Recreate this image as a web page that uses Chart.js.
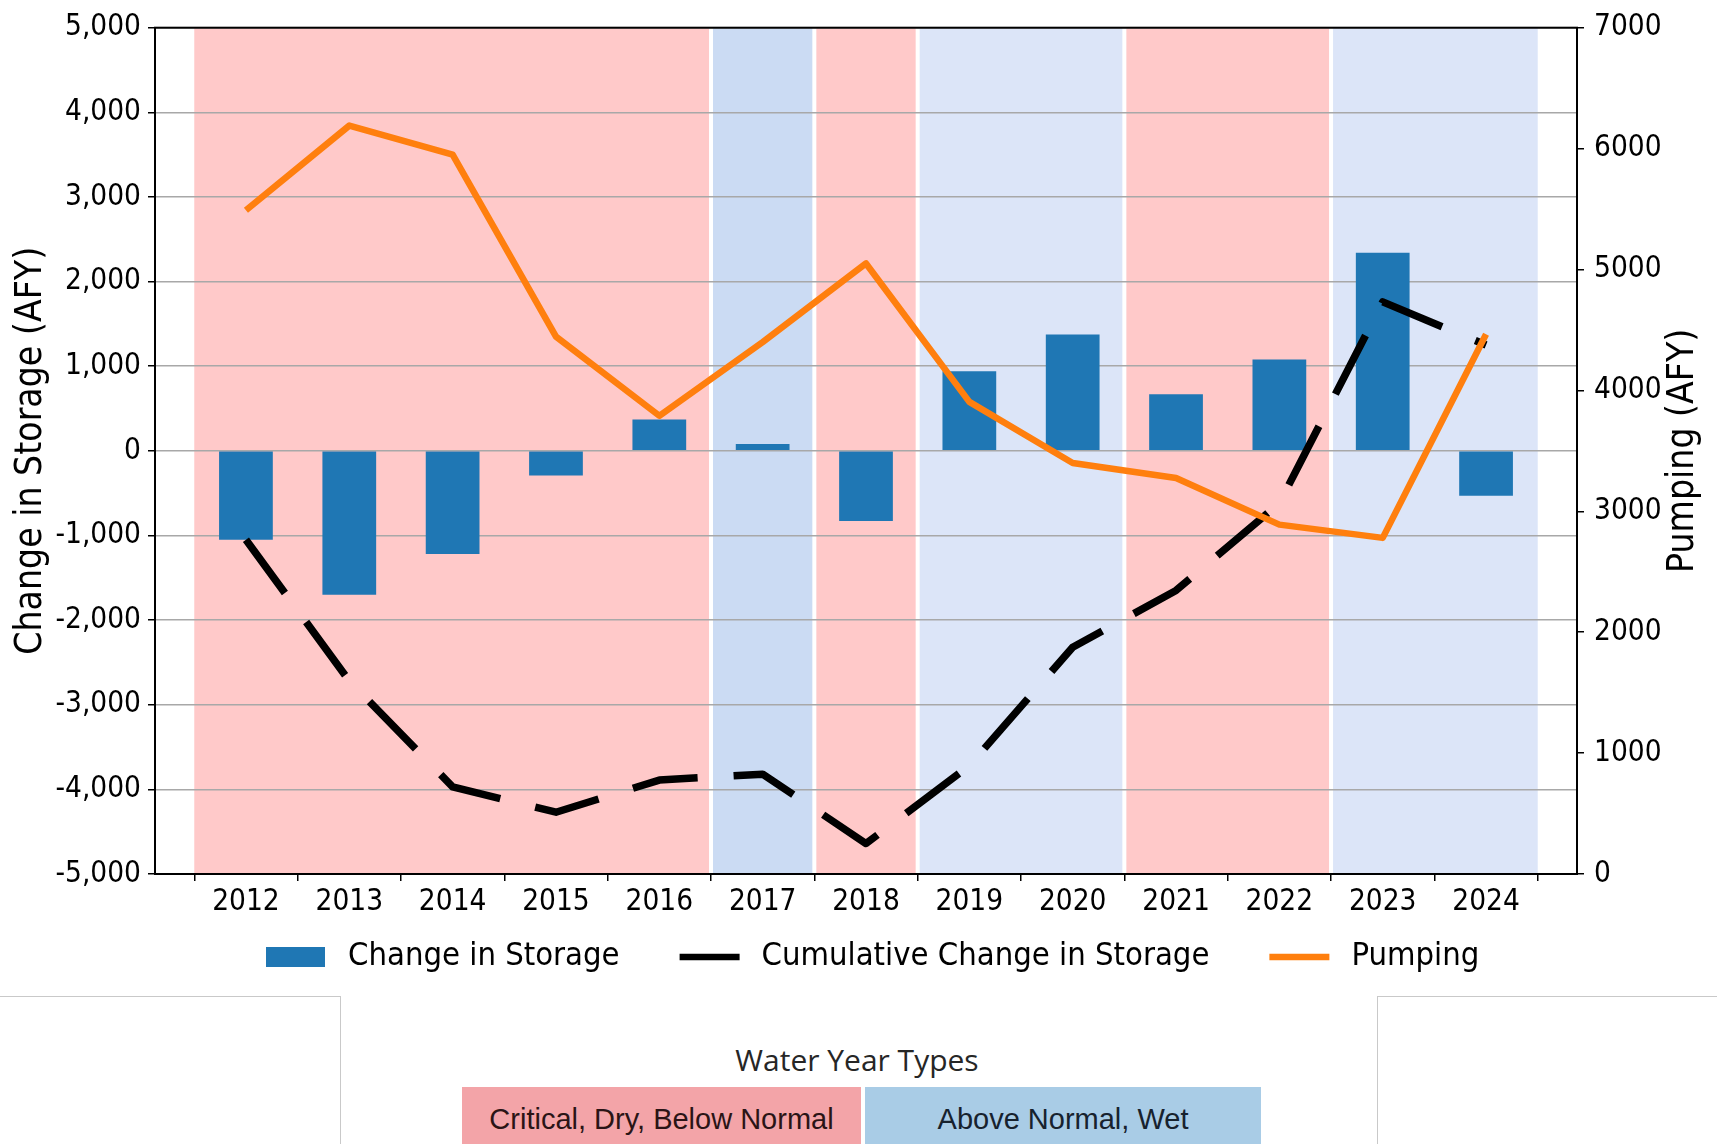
<!DOCTYPE html>
<html>
<head>
<meta charset="utf-8">
<script src="https://cdn.jsdelivr.net/npm/chart.js@4.4.1/dist/chart.umd.min.js"></script>
<style>
  html, body { margin: 0; padding: 0; background: #fff; }
  body { width: 1717px; height: 1144px; position: relative; overflow: hidden; }
  #wrap { position: absolute; left: 0; top: 0; width: 1717px; height: 990px; }
  .rule { position: absolute; background: #c9c9c9; }
  #wyt-title { position: absolute; left: 657px; top: 1042px; width: 400px; text-align: center;
    font-family: 'Open Sans', sans-serif; font-size: 30px; color: #262626; line-height: 36px; }
  .wyt-box { position: absolute; top: 1087px; height: 70px; text-align: center;
    font-family: 'Liberation Sans', Arial, sans-serif; font-size: 29px; line-height: 36px; }
  .wyt-box div { padding-top: 14px; }
  #wyt-dry { left: 462px; width: 399px; background: #f3a4a8; color: #2a1416; }
  #wyt-wet { left: 865px; width: 396px; background: #a9cce6; color: #17222e; }
</style>
</head>
<body>
<div id="wrap"><canvas id="storageChart" width="1717" height="990"></canvas></div>

<div class="rule" style="left:0;top:996px;width:340px;height:1px"></div>
<div class="rule" style="left:340px;top:996px;width:1px;height:148px"></div>
<div class="rule" style="left:1377px;top:996px;width:340px;height:1px"></div>
<div class="rule" style="left:1377px;top:996px;width:1px;height:148px"></div>
<div id="wyt-title">Water Year Types</div>
<div class="wyt-box" id="wyt-dry"><div>Critical, Dry, Below Normal</div></div>
<div class="wyt-box" id="wyt-wet"><div>Above Normal, Wet</div></div>

<script>
// chart data
const years = ['2012', '2013', '2014', '2015', '2016', '2017', '2018', '2019', '2020', '2021', '2022', '2023', '2024'];
const yearTypes = ['dry', 'dry', 'dry', 'dry', 'dry', 'above', 'dry', 'wet', 'wet', 'dry', 'dry', 'wet', 'wet'];
const changeInStorage = [-1050, -1700, -1220, -290, 370, 80, -830, 940, 1375, 670, 1080, 2340, -530];
const cumulativeChange = [-1050, -2720, -3970, -4270, -3890, -3820, -4640, -3720, -2320, -1650, -620, 1760, 1250];
const pumping = [5490, 6190, 5950, 4445, 3790, 4400, 5050, 3905, 3400, 3275, 2890, 2780, 4465];
const storageTickValues = [-5000, -4000, -3000, -2000, -1000, 0, 1000, 2000, 3000, 4000, 5000];
const pumpingTickValues = [0, 1000, 2000, 3000, 4000, 5000, 6000, 7000];

const FONT = "'DejaVu Sans Condensed', 'DejaVu Sans', sans-serif";
const bandColors = { dry: '#ffc9c9', above: '#cbdbf3', wet: '#dce5f8' };

Chart.defaults.font.family = FONT;
Chart.defaults.color = '#000';

// shaded water year type bands behind everything
const yearBands = {
  id: 'yearBands',
  beforeDraw(chart) {
    const { ctx, chartArea } = chart;
    const xs = chart.scales.x;
    const top = chartArea.top;
    const h = chartArea.bottom - chartArea.top;
    const edges = [];
    ctx.save();
    let start = 0;
    for (let i = 1; i <= years.length; i++) {
      if (i === years.length || yearTypes[i] !== yearTypes[start]) {
        const x0 = xs.getPixelForValue(start - 0.5);
        const x1 = xs.getPixelForValue(i - 0.5);
        ctx.fillStyle = bandColors[yearTypes[start]];
        ctx.fillRect(x0, top, x1 - x0, h);
        if (i < years.length) edges.push(x1);
        start = i;
      }
    }
    ctx.fillStyle = '#fff';
    edges.forEach(x => ctx.fillRect(x - 2, top, 4, h));
    ctx.restore();
  }
};

// black frame, right axis title and the legend row under the x axis
const frame = {
  id: 'frame',
  afterDatasetsDraw(chart) {
    const { ctx, chartArea: a } = chart;
    ctx.save();
    ctx.strokeStyle = '#000';
    ctx.lineWidth = 2;
    ctx.strokeRect(a.left, a.top, a.right - a.left, a.bottom - a.top);
    ctx.restore();
  },
  afterDraw(chart) {
    const { ctx, chartArea: a } = chart;
    const y2 = chart.scales.y2;
    ctx.save();
    ctx.translate(y2.right - 34, (a.top + a.bottom) / 2);
    ctx.rotate(-Math.PI / 2);
    ctx.font = '37px ' + FONT;
    ctx.fillStyle = '#000';
    ctx.textAlign = 'center';
    ctx.textBaseline = 'middle';
    ctx.fillText('Pumping (AFY)', 0, 0);
    ctx.restore();

    // legend
    const ly = 957;
    let lx = 266;
    ctx.save();
    ctx.font = '32.5px ' + FONT;
    ctx.textBaseline = 'middle';
    ctx.textAlign = 'left';
    chart.data.datasets.forEach(ds => {
      if (ds.type === 'bar') {
        ctx.fillStyle = ds.backgroundColor;
        ctx.fillRect(lx, ly - 10, 59, 20);
      } else {
        ctx.strokeStyle = ds.borderColor;
        ctx.lineWidth = 6.5;
        ctx.setLineDash([]);
        ctx.beginPath();
        ctx.moveTo(lx, ly);
        ctx.lineTo(lx + 60, ly);
        ctx.stroke();
      }
      lx += 59 + 23;
      ctx.fillStyle = '#000';
      ctx.fillText(ds.label, lx, ly);
      lx += ctx.measureText(ds.label).width + 60;
    });
    ctx.restore();
  }
};

const ctx = document.getElementById('storageChart').getContext('2d');
new Chart(ctx, {
  type: 'bar',
  data: {
    datasets: [
      {
        type: 'bar',
        label: 'Change in Storage',
        data: years.map((_, i) => ({ x: i, y: changeInStorage[i] })),
        backgroundColor: '#1f77b4',
        borderWidth: 0,
        barPercentage: 0.52,
        categoryPercentage: 1.0,
        yAxisID: 'y',
        order: 3
      },
      {
        type: 'line',
        label: 'Cumulative Change in Storage',
        data: years.map((_, i) => ({ x: i, y: cumulativeChange[i] })),
        borderColor: '#000',
        backgroundColor: '#000',
        borderWidth: 7.5,
        borderDash: [66, 36],
        borderJoinStyle: 'round',
        pointRadius: 0,
        tension: 0,
        yAxisID: 'y',
        order: 2
      },
      {
        type: 'line',
        label: 'Pumping',
        data: years.map((_, i) => ({ x: i, y: pumping[i] })),
        borderColor: '#ff7f0e',
        backgroundColor: '#ff7f0e',
        borderWidth: 6.5,
        borderJoinStyle: 'round',
        pointRadius: 0,
        tension: 0,
        yAxisID: 'y2',
        order: 1
      }
    ]
  },
  options: {
    responsive: false,
    animation: false,
    devicePixelRatio: 1,
    layout: { padding: { top: 22, left: 0, right: 0, bottom: 56 } },
    plugins: {
      tooltip: { enabled: false },
      legend: { display: false }
    },
    scales: {
      x: {
        type: 'linear',
        min: -0.88,
        max: 12.88,
        offset: false,
        border: { display: false },
        grid: { drawOnChartArea: false, drawTicks: true, tickLength: 7, color: '#000', lineWidth: 1.5 },
        afterBuildTicks: axis => { axis.ticks = years.map((_, i) => ({ value: i })); },
        ticks: {
          autoSkip: false,
          maxRotation: 0,
          padding: 4,
          font: { size: 29.5 },
          callback: (v, i) => years[i]
        },
        afterFit: s => { s.height = 60; }
      },
      y: {
        position: 'left',
        min: -5000,
        max: 5000,
        border: { display: false },
        grid: { color: '#a8a8a8', lineWidth: 1.5, tickColor: '#000', tickLength: 7 },
        afterBuildTicks: axis => { axis.ticks = storageTickValues.map(v => ({ value: v })); },
        ticks: {
          autoSkip: false,
          padding: 7,
          font: { size: 29.5 },
          callback: v => v.toLocaleString('en-US')
        },
        title: {
          display: true,
          text: 'Change in Storage (AFY)',
          font: { size: 37, lineHeight: 1.5 },
          color: '#000'
        },
        afterFit: s => { s.width = 155; }
      },
      y2: {
        position: 'right',
        min: 0,
        max: 7000,
        border: { display: false },
        grid: { drawOnChartArea: false, tickColor: '#000', tickLength: 7, lineWidth: 1.5 },
        afterBuildTicks: axis => { axis.ticks = pumpingTickValues.map(v => ({ value: v })); },
        ticks: {
          autoSkip: false,
          padding: 10,
          font: { size: 29.5 },
          callback: v => String(v)
        },
        afterFit: s => { s.width = 140; }
      }
    }
  },
  plugins: [yearBands, frame]
});
</script>
</body>
</html>
